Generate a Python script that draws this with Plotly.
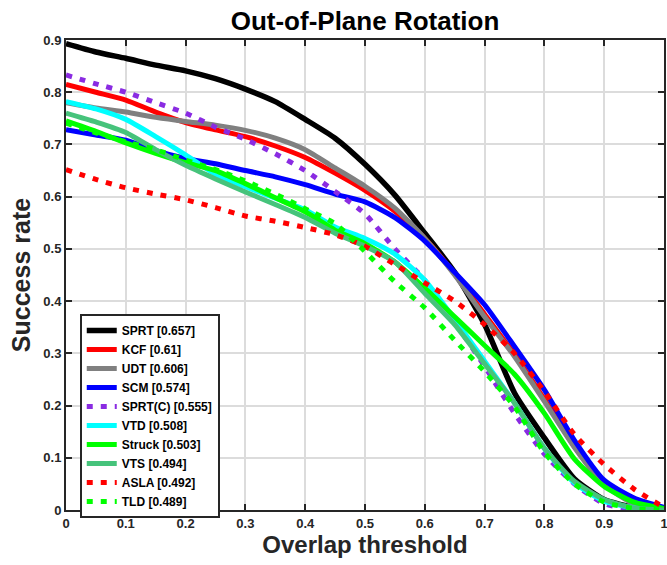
import plotly.graph_objects as go

thresholds = [0.0, 0.05, 0.1, 0.15, 0.2, 0.25, 0.3, 0.35, 0.4, 0.45, 0.5,
              0.55, 0.6, 0.65, 0.7, 0.75, 0.8, 0.85, 0.9, 0.95, 1.0]

sprt = [0.893, 0.877, 0.865, 0.852, 0.841, 0.826, 0.806, 0.782, 0.748, 0.712, 0.662,
        0.603, 0.530, 0.455, 0.355, 0.224, 0.138, 0.060, 0.020, 0.005, 0.0]
kcf = [0.815, 0.800, 0.785, 0.762, 0.742, 0.728, 0.715, 0.697, 0.675, 0.645, 0.612,
       0.572, 0.520, 0.452, 0.375, 0.298, 0.212, 0.122, 0.050, 0.015, 0.0]
udt = [0.780, 0.770, 0.762, 0.752, 0.744, 0.737, 0.727, 0.712, 0.690, 0.655, 0.620,
       0.578, 0.520, 0.450, 0.370, 0.294, 0.208, 0.120, 0.048, 0.012, 0.0]
scm = [0.728, 0.718, 0.708, 0.688, 0.673, 0.663, 0.650, 0.638, 0.623, 0.605, 0.590,
       0.560, 0.515, 0.455, 0.393, 0.313, 0.230, 0.134, 0.057, 0.023, 0.005]
sprt_c = [0.833, 0.816, 0.800, 0.780, 0.760, 0.733, 0.710, 0.682, 0.650, 0.610, 0.567,
          0.500, 0.440, 0.360, 0.275, 0.185, 0.107, 0.050, 0.012, 0.001, 0.0]
vtd = [0.782, 0.768, 0.748, 0.715, 0.680, 0.643, 0.619, 0.597, 0.575, 0.542, 0.520,
       0.490, 0.440, 0.365, 0.285, 0.205, 0.118, 0.052, 0.017, 0.004, 0.0]
struck = [0.745, 0.725, 0.703, 0.683, 0.665, 0.650, 0.625, 0.598, 0.571, 0.536, 0.510,
          0.475, 0.425, 0.370, 0.315, 0.260, 0.185, 0.098, 0.045, 0.015, 0.003]
vts = [0.760, 0.743, 0.723, 0.690, 0.660, 0.634, 0.609, 0.585, 0.560, 0.530, 0.505,
       0.475, 0.415, 0.355, 0.280, 0.205, 0.118, 0.055, 0.020, 0.004, 0.0]
asla = [0.652, 0.633, 0.617, 0.605, 0.594, 0.579, 0.563, 0.553, 0.541, 0.527, 0.505,
        0.470, 0.435, 0.400, 0.355, 0.300, 0.227, 0.145, 0.087, 0.040, 0.005]
tld = [0.741, 0.722, 0.705, 0.690, 0.670, 0.652, 0.630, 0.605, 0.577, 0.548, 0.495,
       0.437, 0.387, 0.325, 0.265, 0.198, 0.110, 0.050, 0.015, 0.003, 0.0]

names = ["SPRT [0.657]", "KCF [0.61]", "UDT [0.606]", "SCM [0.574]", "SPRT(C) [0.555]",
         "VTD [0.508]", "Struck [0.503]", "VTS [0.494]", "ASLA [0.492]", "TLD [0.489]"]
series = [sprt, kcf, udt, scm, sprt_c, vtd, struck, vts, asla, tld]
colors = ["#000000", "#FF0000", "#808080", "#0000FF", "#8A2BE2",
          "#00FFFF", "#00FF00", "#46C37B", "#FF0000", "#00FF00"]
dashes = ["solid", "solid", "solid", "solid", "6px,8px",
          "solid", "solid", "solid", "6px,8px", "6px,8px"]

x_ticks = [0, 0.1, 0.2, 0.3, 0.4, 0.5, 0.6, 0.7, 0.8, 0.9, 1]
x_ticktext = ["0", "0.1", "0.2", "0.3", "0.4", "0.5", "0.6", "0.7", "0.8", "0.9", "1"]
y_ticks = [0, 0.1, 0.2, 0.3, 0.4, 0.5, 0.6, 0.7, 0.8, 0.9]
y_ticktext = ["0", "0.1", "0.2", "0.3", "0.4", "0.5", "0.6", "0.7", "0.8", "0.9"]

FONT = "Liberation Sans, Arial, Helvetica, sans-serif"

FIG_W, FIG_H = 667, 565

fig = go.Figure()
for name, ys, c, d in zip(names, series, colors, dashes):
    fig.add_trace(go.Scatter(
        x=thresholds, y=ys, mode="lines", name=name,
        line=dict(color=c, width=5.5 if c == "#000000" else 5, dash=d, shape="spline", smoothing=0.6),
    ))

axis_common = dict(
    showline=True, linecolor="#262626", linewidth=2, mirror="ticks",
    ticks="inside", ticklen=6, tickwidth=1.5, tickcolor="#262626",
    showgrid=True, gridcolor="#DCDCDC", gridwidth=1.5, zeroline=False,
    automargin=False, ticklabeloverflow="allow",
    tickfont=dict(family=FONT, size=13, color="#262626", weight="bold"),
)

fig.update_layout(
    width=FIG_W, height=FIG_H,
    margin=dict(l=66, r=3, t=40, b=55),
    paper_bgcolor="white", plot_bgcolor="white",
    title=dict(text="Out-of-Plane Rotation", x=365 / FIG_W, xanchor="center",
               y=1 - 21 / FIG_H, yanchor="middle",
               font=dict(family=FONT, size=26, color="#000000", weight="bold")),
    xaxis=dict(range=[0, 1], tickvals=x_ticks, ticktext=x_ticktext,
               title=dict(text="Overlap threshold", standoff=5,
                          font=dict(family=FONT, size=24, color="#262626", weight="bold")),
               **axis_common),
    yaxis=dict(range=[0, 0.9], tickvals=y_ticks, ticktext=y_ticktext,
               title=dict(text="Success rate", standoff=6,
                          font=dict(family=FONT, size=25, color="#262626", weight="bold")),
               **axis_common),
    legend=dict(x=0.023, y=(510 - 314) / 470, xanchor="left", yanchor="top",
                bgcolor="white", bordercolor="#262626", borderwidth=2,
                font=dict(family=FONT, size=12, color="#000000", weight="bold"),
                tracegroupgap=0),
    showlegend=True,
)

# Remove the browser's default 8px page margin so the figure fills the window exactly.
fig.write_html("out.html", config={"displayModeBar": False},
               post_script="document.body.style.margin='0';")
